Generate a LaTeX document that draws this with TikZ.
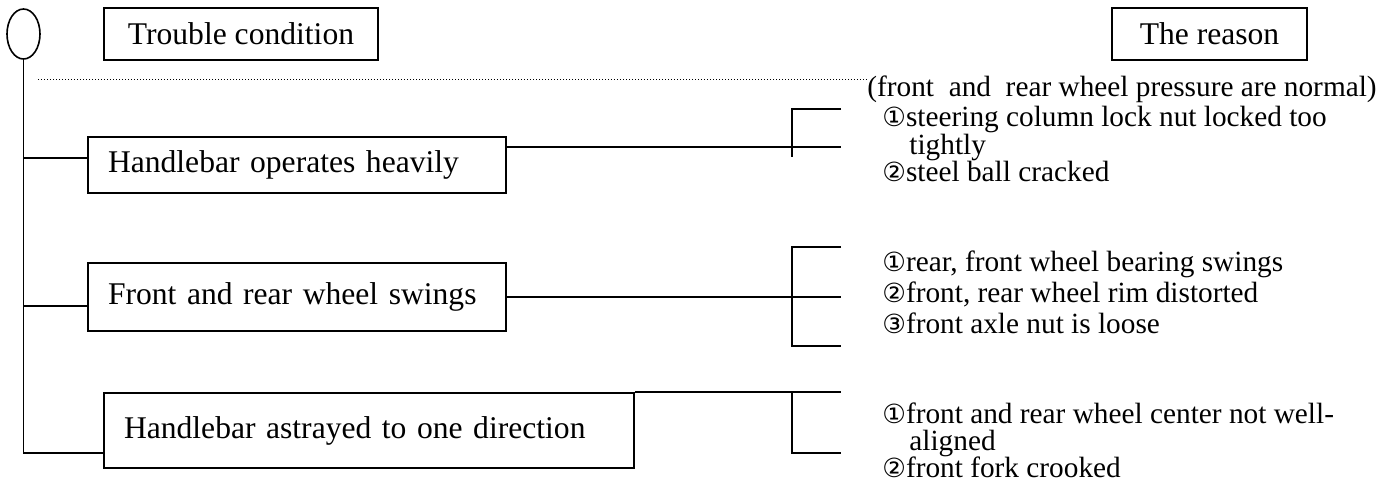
\documentclass[tikz,border=0pt]{standalone}
\usepackage{fontspec}
\setmainfont{Liberation Serif}
\newfontfamily\circfont[Scale=0.9]{DejaVu Sans}
\newcommand{\cnum}[1]{{\circfont #1}}
\newcommand{\tightlines}{\lineskiplimit=-\maxdimen\relax}
\usetikzlibrary{shapes}
\tikzstyle{oval} = [ellipse, draw, line width=0.8pt, minimum width=16.5pt,
    minimum height=25pt, inner sep=0pt]
\tikzstyle{head} = [rectangle, draw, line width=0.8pt, minimum height=26pt,
    font=\fontsize{15.8}{19}\selectfont]
\tikzstyle{cond} = [rectangle, draw, line width=0.8pt, align=left,
    inner xsep=10pt, font=\fontsize{15.8}{19}\selectfont]
\tikzstyle{reason} = [align=left, inner sep=0pt, anchor=base west,
    font={\fontsize{14.65}{13.75}\selectfont\tightlines}]
\tikzstyle{line} = [draw, line width=0.8pt]
\tikzstyle{dotline} = [draw, line width=0.5pt, dash pattern=on 0.6pt off 0.9pt]

\begin{document}
\begin{tikzpicture}[x=0.5pt, y=-0.5pt, node distance=2cm]
    \useasboundingbox (0,0) rectangle (1384,488);
    % Place nodes
    \node [oval] (top) at (23.5,34) {};
    \node [head, minimum width=137pt, right of=top, node distance=108.75pt] (hdrA) {Trouble condition};
    \node [head, minimum width=97.5pt, right of=hdrA, node distance=484.25pt] (hdrB) {The reason};
    \node [cond, text width=189pt, minimum height=28pt] (condA) at (297,165) {Handlebar operates heavily};
    \node [cond, text width=189pt, minimum height=34pt, below of=condA, node distance=66pt] (condB) {Front and rear wheel swings};
    \node [cond, text width=245pt, minimum height=37.5pt] (condC) at (369,430.5) {Handlebar astrayed to one direction};
    \node [reason] (note) at (867,96) {(front\ \ and\ \ rear wheel pressure are normal)};
    \node [reason] (reasonA) at (882,181.5) {\cnum{①}steering column lock nut locked too\\\hspace*{13.5pt}tightly\\\cnum{②}steel ball cracked};
    \node [reason, font={\fontsize{14.65}{15.5}\selectfont\tightlines}] (reasonB) at (882,333.5) {\cnum{①}rear, front wheel bearing swings\\\cnum{②}front, rear wheel rim distorted\\\cnum{③}front axle nut is loose};
    \node [reason, font={\fontsize{14.65}{13.5}\selectfont\tightlines}] (reasonC) at (882,477) {\cnum{①}front and rear wheel center not well-\\\hspace*{13.5pt}aligned\\\cnum{②}front fork crooked};
    % Points for the edges
    \coordinate (trunkend) at (top.south |- 0,453);
    \coordinate (tapA) at (top.south |- 0,158);
    \coordinate (tapB) at (top.south |- 0,306);
    \coordinate (outA) at ([yshift=9pt]condA.east);
    \coordinate (tickx) at (841,0);
    \coordinate (brA) at (792,109);
    \coordinate (brAend) at (792,157);
    \coordinate (brB) at (792,247);
    \coordinate (brBend) at (792,346);
    \coordinate (brCend) at (792,453);
    \coordinate (dotstart) at (38,79);
    % Draw edges
    \path [line] (top) -- (trunkend) -- (trunkend -| condC.west);
    \path [line] (tapA) -- (tapA -| condA.west);
    \path [line] (tapB) -- (tapB -| condB.west);
    \path [line] (outA) -- (outA -| tickx);
    \path [line] (brA -| tickx) -- (brA) -- (brAend);
    \path [line] (condB) -- (condB -| tickx);
    \path [line] (brB -| tickx) -- (brB) -- (brBend) -- (brBend -| tickx);
    \path [line] (condC.north east) -- (condC.north east -| tickx);
    \path [line] (condC.north east -| brCend) -- (brCend) -- (brCend -| tickx);
    \path [dotline] (dotstart) -- (dotstart -| note.west);
\end{tikzpicture}
\end{document}
